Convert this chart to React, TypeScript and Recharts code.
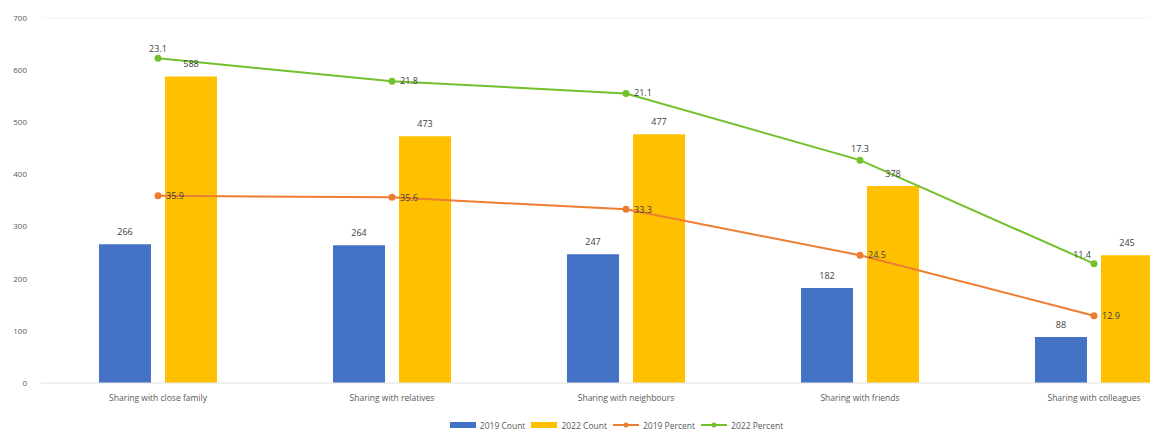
import React from 'react';
import { ComposedChart, Bar, Line, XAxis, YAxis, CartesianGrid, Legend, LabelList } from 'recharts';

const categories = [
  'Sharing with close family',
  'Sharing with relatives',
  'Sharing with neighbours',
  'Sharing with friends',
  'Sharing with colleagues',
];
const count2019 = [266, 264, 247, 182, 88];
const count2022 = [588, 473, 477, 378, 245];
const percent2019 = [35.9, 35.6, 33.3, 24.5, 12.9];
const percent2022 = [23.1, 21.8, 21.1, 17.3, 11.4];
const yTicks = [0, 100, 200, 300, 400, 500, 600, 700];

const data = categories.map((name, i) => ({
  name,
  c2019: count2019[i],
  c2022: count2022[i],
  p2019: percent2019[i],
  p2022: percent2022[i],
}));

const BLUE = '#4472C4';
const YELLOW = '#FFC000';
const ORANGE = '#ED7D31';
const GREEN = '#72C02C';
const TEXT = '#404040';

const greenLabel = (props: any) => {
  const { x, y, value, index } = props;
  // nudge labels a bit like the original
  let dx = 8;
  let dy = 3;
  let anchor: any = 'start';
  if (index === 0) { dx = 0; dy = -6; anchor = 'middle'; }
  if (index === 3) { dx = 0; dy = -8; anchor = 'middle'; }
  if (index === 4) { dx = -3; dy = -6; anchor = 'end'; }
  return (
    <text x={x + dx} y={y + dy} fontSize={9} fill={TEXT} textAnchor={anchor}>
      {value}
    </text>
  );
};

const LegendContent = () => {
  const items = [
    { label: '2019 Count', color: BLUE, kind: 'rect' },
    { label: '2022 Count', color: YELLOW, kind: 'rect' },
    { label: '2019 Percent', color: ORANGE, kind: 'line' },
    { label: '2022 Percent', color: GREEN, kind: 'line' },
  ];
  return (
    <div style={{ display: 'flex', justifyContent: 'center', alignItems: 'center', height: 24, paddingLeft: 28, fontSize: 8.5, color: '#595959' }}>
      {items.map((it) => (
        <div key={it.label} style={{ display: 'flex', alignItems: 'center', marginRight: 6 }}>
          <svg width={26} height={10} style={{ marginRight: 4 }}>
            {it.kind === 'rect' ? (
              <rect x={0} y={2} width={26} height={6} fill={it.color} />
            ) : (
              <g>
                <line x1={0} y1={5} x2={26} y2={5} stroke={it.color} strokeWidth={2} />
                <circle cx={13} cy={5} r={2.5} fill={it.color} />
              </g>
            )}
          </svg>
          <span>{it.label}</span>
        </div>
      ))}
    </div>
  );
};

export default function App() {
  return (
    <div style={{ position: 'absolute', left: 0, top: 0, width: 1150, height: 437, overflow: 'hidden', background: '#fff', fontFamily: '"Open Sans", "Liberation Sans", sans-serif' }}>
      <ComposedChart
        width={1211}
        height={437}
        data={data}
        margin={{ top: 18, right: 0, left: 0, bottom: 0 }}
        barSize={52}
        barGap={14}
      >
        <CartesianGrid vertical={false} stroke="#f5f5f5" />
        <XAxis
          dataKey="name"
          height={30}
          tick={{ fontSize: 8.5, fill: '#595959' }}
          axisLine={{ stroke: '#e6e6e6' }}
          tickLine={false}
          tickMargin={6}
        />
        <YAxis
          yAxisId="count"
          width={41}
          domain={[0, 700]}
          ticks={yTicks}
          tick={{ fontSize: 8, fill: '#595959' }}
          axisLine={false}
          tickLine={false}
          tickMargin={8}
        />
        <YAxis yAxisId="p19" orientation="right" hide domain={[0, 70]} />
        <YAxis yAxisId="p22" orientation="right" hide domain={[4.6, 25.4]} />
        <Legend verticalAlign="bottom" content={<LegendContent />} />
        <Bar yAxisId="count" dataKey="c2019" name="2019 Count" fill={BLUE} isAnimationActive={false}>
          <LabelList dataKey="c2019" position="top" offset={9} fontSize={9} fill={TEXT} />
        </Bar>
        <Bar yAxisId="count" dataKey="c2022" name="2022 Count" fill={YELLOW} isAnimationActive={false}>
          <LabelList dataKey="c2022" position="top" offset={9} fontSize={9} fill={TEXT} />
        </Bar>
        <Line
          yAxisId="p19"
          dataKey="p2019"
          name="2019 Percent"
          stroke={ORANGE}
          strokeWidth={2}
          dot={{ r: 2.5, fill: ORANGE, stroke: ORANGE }}
          isAnimationActive={false}
        >
          <LabelList dataKey="p2019" position="right" offset={8} fontSize={9} fill={TEXT} />
        </Line>
        <Line
          yAxisId="p22"
          dataKey="p2022"
          name="2022 Percent"
          stroke={GREEN}
          strokeWidth={2}
          dot={{ r: 2.5, fill: GREEN, stroke: GREEN }}
          isAnimationActive={false}
        >
          <LabelList dataKey="p2022" content={greenLabel} />
        </Line>
      </ComposedChart>
    </div>
  );
}
